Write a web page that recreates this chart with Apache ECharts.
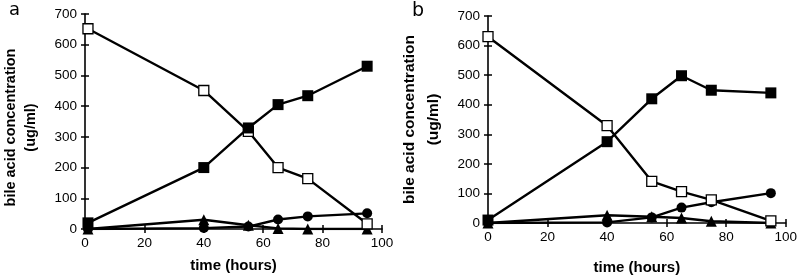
<!DOCTYPE html>
<html>
<head>
<meta charset="utf-8">
<script src="https://cdn.jsdelivr.net/npm/echarts@6/dist/echarts.min.js"></script>
<style>
  html, body { margin: 0; padding: 0; background: #fff; }
  #chart { width: 800px; height: 280px; }
</style>
</head>
<body>
<div id="chart"></div>
<script>
// panel a
const timeA = [1, 40, 55, 65, 75, 95];
const openSqA = [652, 451, 318, 200, 164, 17];
const fillSqA = [20, 200, 329, 405, 434, 530];
const circleA = [0, 3, 8, 31, 41, 51];
const triA = [0, 30, 12, 2, 0, 0];

// panel b
const timeB = [0, 40, 55, 65, 75, 95];
const openSqB = [630, 329, 141, 106, 78, 7];
const fillSqB = [10, 275, 420, 498, 449, 440];
const circleB = [0, 2, 19, 52, 70, 101];
const triB = [0, 26, 21, 17, 6, 0];

const yTitle = 'bile acid concentration\n(ug/ml)';
const xTitle = 'time (hours)';

const pairs = (xs, ys) => xs.map((x, i) => [x, ys[i]]);

const font = 'Liberation Sans, Arial, sans-serif';

const mkX = (grid, nameGap, inner) => ({
  type: 'value',
  gridIndex: grid,
  position: 'bottom',
  min: 0,
  max: 100,
  interval: 20,
  name: inner ? '' : xTitle,
  nameLocation: 'middle',
  nameGap: nameGap,
  nameTextStyle: { fontFamily: font, fontSize: 15, fontWeight: 'bold', color: '#000' },
  axisLine: { show: !inner, onZero: false, lineStyle: { color: '#000', width: 1.6 } },
  axisTick: { show: true, inside: inner, length: 4, lineStyle: { color: '#000', width: 1.5 } },
  axisLabel: { show: !inner, margin: 7, fontFamily: font, fontSize: 13.5, color: '#000' },
  splitLine: { show: false }
});

const mkY = (grid, nameGap, fs, lh, inner, pad) => ({
  type: 'value',
  gridIndex: grid,
  position: 'left',
  min: 0,
  max: 700,
  interval: 100,
  name: inner ? '' : yTitle,
  nameLocation: 'middle',
  nameGap: nameGap,
  nameTextStyle: { fontFamily: font, fontSize: fs, fontWeight: 'bold', color: '#000', lineHeight: lh, padding: pad },
  axisLine: { show: !inner, onZero: false, lineStyle: { color: '#000', width: 1.6 } },
  axisTick: { show: true, inside: inner, length: 4, lineStyle: { color: '#000', width: 1.5 } },
  axisLabel: { show: !inner, margin: 8, fontFamily: font, fontSize: 13.5, color: '#000' },
  splitLine: { show: false }
});

const mkSeries = (xi, yi, xs, ys, symbol, size, filled) => ({
  type: 'line',
  xAxisIndex: xi,
  yAxisIndex: yi,
  data: pairs(xs, ys),
  symbol: symbol,
  symbolSize: size,
  showAllSymbol: true,
  animation: false,
  lineStyle: { color: '#000', width: 2.4 },
  itemStyle: filled
    ? { color: '#000', borderColor: '#000', borderWidth: 0 }
    : { color: '#fff', borderColor: '#000', borderWidth: 1.3 }
});

const chart = echarts.init(document.getElementById('chart'));
chart.setOption({
  animation: false,
  backgroundColor: '#fff',
  grid: [
    { left: 83, right: 418, top: 14, bottom: 51 },
    { left: 488, right: 13, top: 16, bottom: 52 }
  ],
  xAxis: [mkX(0, 29, false), mkX(0, 29, true), mkX(1, 37, false), mkX(1, 37, true)],
  yAxis: [
    mkY(0, 44, 14.5, 20, false, [0, 12, 0, 0]), mkY(0, 44, 14, 20, true),
    mkY(1, 42, 15.5, 24, false, [0, 0, 0, 0]), mkY(1, 42, 15.5, 24, true)
  ],
  graphic: [
    { type: 'text', left: 9, top: 1, style: { text: 'a', font: '18px DejaVu Sans', fill: '#000' } },
    { type: 'text', left: 412, top: 2, style: { text: 'b', font: '19px DejaVu Sans', fill: '#000' } }
  ],
  series: [
    mkSeries(0, 0, timeA, triA, 'triangle', 11, true),
    mkSeries(0, 0, timeA, circleA, 'circle', 10, true),
    mkSeries(0, 0, timeA, openSqA, 'rect', 10, false),
    mkSeries(0, 0, timeA, fillSqA, 'rect', 11, true),
    mkSeries(2, 2, timeB, triB, 'triangle', 11, true),
    mkSeries(2, 2, timeB, circleB, 'circle', 10, true),
    mkSeries(2, 2, timeB, openSqB, 'rect', 10, false),
    mkSeries(2, 2, timeB, fillSqB, 'rect', 11, true)
  ]
});
</script>
</body>
</html>
